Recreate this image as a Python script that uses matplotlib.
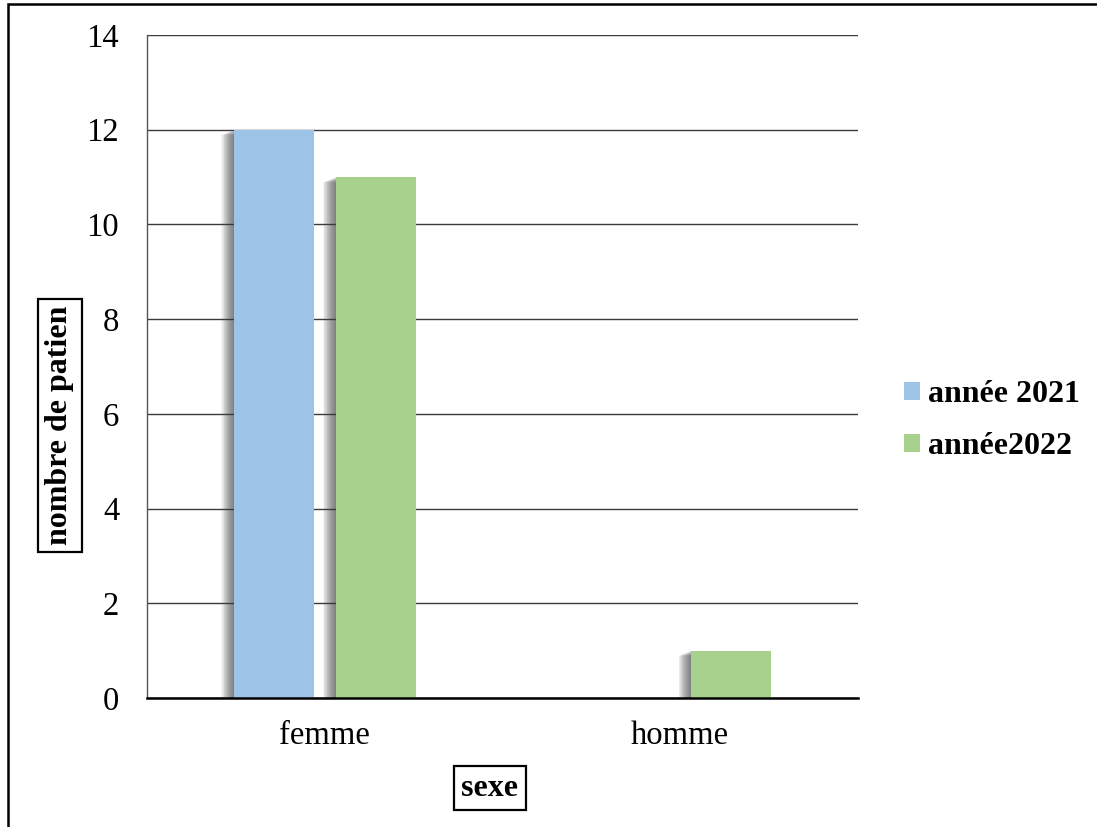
import matplotlib
matplotlib.use("Agg")
import matplotlib.pyplot as plt
import matplotlib.patheffects as pe
from matplotlib.patches import Rectangle, Patch
import numpy as np

# Data
categories = ["femme", "homme"]
series_names = ["année 2021", "année2022"]
values_2021 = [12, 0]
values_2022 = [11, 1]
y_ticks = [0, 2, 4, 6, 8, 10, 12, 14]

colors = ["#9DC3E6", "#A9D18E"]

plt.rcParams["font.family"] = ["Liberation Serif", "DejaVu Serif"]

fig = plt.figure(figsize=(10.97, 8.27), dpi=100)
ax = fig.add_axes([147 / 1097, 1 - 698 / 827, (858 - 147) / 1097, (698 - 35) / 827])

x = np.arange(len(categories))
bar_w = 0.225
offset = 0.143

# soft shadow on the left / lower side of each bar
steps = np.linspace(9, 0.5, 18)
shadow = [pe.SimplePatchShadow(offset=(-d, -0.4 * d), shadow_rgbFace="#444444", alpha=0.055)
          for d in steps] + [pe.Normal()]

for vals, col, dx in ((values_2021, colors[0], -offset), (values_2022, colors[1], offset)):
    bars = ax.bar(x + dx, vals, width=bar_w, color=col, zorder=3)
    for b, v in zip(bars, vals):
        if v > 0:
            b.set_path_effects(shadow)

ax.set_xlim(-0.5, 1.5)
ax.set_ylim(0, 14)
ax.set_yticks(y_ticks)
ax.set_xticks(x)
ax.set_xticklabels(categories)
ax.tick_params(axis="both", length=0, labelsize=23.5)
ax.tick_params(axis="y", pad=20)
ax.tick_params(axis="x", pad=16)

ax.grid(axis="y", color="#3a3a3a", linewidth=1.0, zorder=0)
ax.set_axisbelow(True)
for s in ("top", "right"):
    ax.spines[s].set_visible(False)
ax.spines["left"].set_color("#555555")
ax.spines["left"].set_linewidth(1.0)
ax.spines["bottom"].set_color("black")
ax.spines["bottom"].set_linewidth(1.8)
ax.spines["bottom"].set_zorder(4)

# axis titles in boxes
box = dict(boxstyle="square,pad=0.22", fc="white", ec="black", lw=1.6)
fig.text(60 / 1097, 1 - 425.5 / 827, "nombre de patien", rotation=90, ha="center", va="center",
         fontsize=23, fontweight="bold", bbox=box)
fig.text(490 / 1097, 1 - 788 / 827, "sexe", ha="center", va="center",
         fontsize=23, fontweight="bold", bbox=box)

# legend
handles = [Patch(facecolor=c, edgecolor="none") for c in colors]
fig.legend(handles, series_names, loc="center left",
           bbox_to_anchor=(875 / 1097, 1 - 421 / 827), frameon=False,
           prop={"size": 23, "weight": "bold"}, handlelength=0.5, handleheight=0.5,
           handletextpad=0.25, labelspacing=0.72)

# outer frame
fig.patches.append(Rectangle((8 / 1097, -0.05), 1.2, 0.05 + (1 - 4 / 827), transform=fig.transFigure,
                             fill=False, ec="black", lw=1.8, clip_on=False))

fig.savefig("out.png", dpi=100)
